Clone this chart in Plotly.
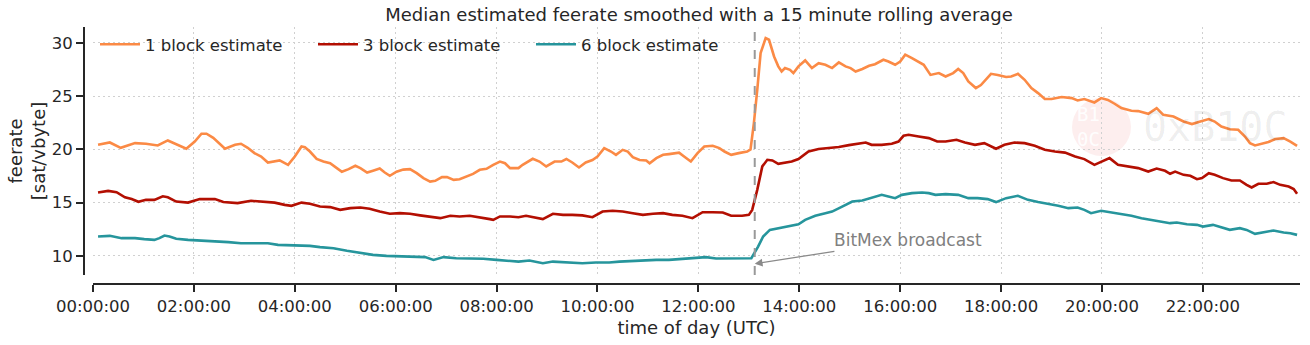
import pandas as pd
import plotly.graph_objects as go

DAY = "2020-01-01 "

# 1 block estimate (sat/vbyte), 15 minute rolling median
t_1block = ["00:06", "00:20", "00:33", "00:50", "01:03", "01:17", "01:29", "01:41", "01:51", "02:01",
            "02:09", "02:15", "02:23", "02:37", "02:49", "02:56", "03:04", "03:12", "03:20", "03:28",
            "03:36", "03:42", "03:52", "04:00", "04:08", "04:12", "04:18", "04:26", "04:34", "04:42",
            "04:50", "04:56", "05:04", "05:12", "05:18", "05:26", "05:33", "05:41", "05:47", "05:53",
            "06:01", "06:09", "06:17", "06:25", "06:33", "06:41", "06:47", "06:55", "07:01", "07:09",
            "07:16", "07:24", "07:32", "07:40", "07:48", "07:56", "08:04", "08:10", "08:16", "08:26",
            "08:31", "08:43", "08:51", "08:59", "09:09", "09:17", "09:23", "09:30", "09:38", "09:46",
            "09:54", "10:00", "10:08", "10:16", "10:22", "10:30", "10:36", "10:42", "10:50", "10:58",
            "11:02", "11:10", "11:18", "11:25", "11:37", "11:43", "11:51", "11:59", "12:07", "12:17",
            "12:25", "12:31", "12:39", "12:48", "12:58", "13:02", "13:06", "13:10", "13:14", "13:20",
            "13:24", "13:30", "13:35", "13:39", "13:43", "13:49", "13:53", "13:59", "14:07", "14:15",
            "14:23", "14:31", "14:39", "14:47", "14:55", "15:01", "15:07", "15:15", "15:23", "15:30",
            "15:40", "15:46", "15:54", "16:00", "16:06", "16:14", "16:22", "16:28", "16:36", "16:46",
            "16:54", "17:03", "17:09", "17:15", "17:21", "17:30", "17:36", "17:48", "17:56", "18:06",
            "18:12", "18:20", "18:28", "18:36", "18:44", "18:52", "19:00", "19:12", "19:24", "19:31",
            "19:39", "19:51", "19:59", "20:07", "20:15", "20:23", "20:35", "20:43", "20:55", "21:05",
            "21:13", "21:25", "21:37", "21:47", "21:57", "22:07", "22:14", "22:22", "22:32", "22:42",
            "22:50", "22:56", "23:02", "23:10", "23:18", "23:26", "23:36", "23:44", "23:52"]
v_1block = [20.43, 20.65, 20.15, 20.59, 20.53, 20.37, 20.84, 20.43, 20.06, 20.74,
            21.47, 21.47, 21.09, 20.06, 20.43, 20.53, 20.15, 19.65, 19.33, 18.77,
            18.86, 18.96, 18.55, 19.33, 20.27, 20.20, 19.80, 19.10, 18.86, 18.70,
            18.24, 17.90, 18.15, 18.46, 18.24, 17.83, 18.00, 18.20, 17.83, 17.52,
            17.90, 18.10, 18.15, 17.77, 17.30, 16.98, 17.05, 17.40, 17.40, 17.14,
            17.20, 17.45, 17.70, 18.08, 18.18, 18.55, 18.86, 18.70, 18.24, 18.24,
            18.55, 19.12, 18.86, 18.40, 18.86, 18.86, 19.10, 18.77, 18.30, 18.77,
            19.00, 19.33, 20.12, 19.80, 19.49, 19.96, 19.80, 19.28, 19.00, 18.96,
            18.70, 19.18, 19.49, 19.56, 19.70, 19.33, 18.86, 19.65, 20.27, 20.34,
            20.12, 19.80, 19.49, 19.65, 19.80, 20.00, 22.47, 25.60, 29.05, 30.46,
            30.30, 28.73, 27.80, 27.32, 27.64, 27.48, 27.17, 27.80, 28.36, 27.64,
            28.10, 27.95, 27.64, 28.17, 27.80, 27.64, 27.32, 27.55, 27.86, 28.00,
            28.42, 28.26, 27.95, 28.26, 28.90, 28.58, 28.26, 27.95, 27.00, 27.17,
            26.85, 27.17, 27.55, 27.17, 26.38, 25.76, 26.05, 27.10, 27.00, 26.80,
            26.85, 27.10, 26.54, 25.76, 25.29, 24.73, 24.73, 24.92, 24.82, 24.60,
            24.73, 24.41, 24.82, 24.65, 24.29, 23.88, 23.63, 23.60, 23.35, 23.88,
            23.25, 23.09, 22.62, 22.38, 22.62, 22.85, 22.62, 22.15, 21.90, 21.84,
            21.21, 20.59, 20.37, 20.53, 20.69, 20.97, 21.06, 20.74, 20.34]

# 3 block estimate (sat/vbyte)
t_3block = ["00:06", "00:18", "00:28", "00:38", "00:46", "00:54", "01:03", "01:13", "01:23", "01:29",
            "01:39", "01:53", "02:07", "02:17", "02:25", "02:35", "02:52", "03:08", "03:24", "03:36",
            "03:48", "03:56", "04:08", "04:18", "04:30", "04:42", "04:54", "05:06", "05:18", "05:29",
            "05:41", "05:53", "06:05", "06:17", "06:29", "06:41", "06:53", "07:05", "07:16", "07:28",
            "07:40", "07:52", "07:56", "08:04", "08:16", "08:26", "08:35", "08:45", "08:55", "09:07",
            "09:19", "09:30", "09:42", "09:54", "10:06", "10:18", "10:30", "10:42", "10:54", "11:06",
            "11:18", "11:29", "11:41", "11:53", "12:05", "12:17", "12:29", "12:39", "12:52", "13:00",
            "13:04", "13:10", "13:16", "13:22", "13:28", "13:35", "13:43", "13:51", "13:59", "14:05",
            "14:11", "14:23", "14:35", "14:47", "14:59", "15:11", "15:19", "15:26", "15:38", "15:50",
            "15:58", "16:04", "16:10", "16:22", "16:34", "16:44", "16:54", "17:07", "17:17", "17:29",
            "17:40", "17:54", "18:04", "18:16", "18:28", "18:40", "18:52", "19:04", "19:16", "19:28",
            "19:39", "19:51", "19:59", "20:09", "20:19", "20:33", "20:43", "20:55", "21:05", "21:15",
            "21:21", "21:27", "21:37", "21:45", "21:53", "21:59", "22:07", "22:14", "22:24", "22:34",
            "22:44", "22:52", "22:58", "23:06", "23:16", "23:24", "23:32", "23:42", "23:48", "23:52"]
v_3block = [15.95, 16.10, 15.98, 15.50, 15.33, 15.08, 15.26, 15.26, 15.60, 15.50,
            15.10, 15.00, 15.33, 15.33, 15.33, 15.05, 14.95, 15.17, 15.10, 15.00,
            14.79, 14.70, 15.00, 14.89, 14.63, 14.58, 14.32, 14.48, 14.54, 14.42,
            14.16, 13.95, 14.01, 13.95, 13.80, 13.70, 13.54, 13.76, 13.70, 13.76,
            13.63, 13.45, 13.38, 13.70, 13.70, 13.63, 13.76, 13.63, 13.45, 13.95,
            13.85, 13.85, 13.80, 13.63, 14.16, 14.23, 14.16, 14.01, 13.85, 13.95,
            14.01, 13.85, 13.76, 13.54, 14.10, 14.10, 14.07, 13.76, 13.76, 13.85,
            14.32, 16.20, 18.40, 19.02, 18.96, 18.65, 18.77, 18.86, 19.09, 19.49,
            19.80, 20.03, 20.12, 20.22, 20.40, 20.59, 20.65, 20.43, 20.43, 20.53,
            20.74, 21.28, 21.37, 21.21, 21.06, 20.74, 20.74, 20.90, 20.65, 20.43,
            20.59, 20.06, 20.43, 20.65, 20.59, 20.34, 19.96, 19.80, 19.70, 19.33,
            19.09, 18.55, 18.86, 19.18, 18.55, 18.40, 18.24, 17.92, 18.20, 17.99,
            17.71, 17.92, 17.61, 17.52, 17.20, 17.30, 17.77, 17.61, 17.30, 17.08,
            17.08, 16.67, 16.42, 16.77, 16.77, 16.93, 16.67, 16.51, 16.27, 15.83]

# 6 block estimate (sat/vbyte)
t_6block = ["00:06", "00:20", "00:34", "00:50", "01:01", "01:13", "01:19", "01:25", "01:31", "01:39",
            "01:53", "02:09", "02:25", "02:41", "02:56", "03:12", "03:28", "03:40", "03:52", "04:08",
            "04:18", "04:30", "04:46", "05:02", "05:18", "05:33", "05:49", "06:05", "06:21", "06:35",
            "06:45", "06:57", "07:12", "07:28", "07:44", "08:00", "08:12", "08:26", "08:39", "08:55",
            "09:07", "09:23", "09:42", "09:58", "10:14", "10:26", "10:42", "10:58", "11:10", "11:25",
            "11:41", "11:57", "12:09", "12:21", "12:33", "12:45", "12:59", "13:03", "13:11", "13:17",
            "13:25", "13:35", "13:47", "13:59", "14:07", "14:19", "14:31", "14:39", "14:51", "15:03",
            "15:15", "15:26", "15:38", "15:46", "15:54", "16:02", "16:14", "16:26", "16:34", "16:42",
            "16:54", "17:09", "17:21", "17:32", "17:44", "17:54", "18:06", "18:20", "18:32", "18:44",
            "18:56", "19:08", "19:20", "19:31", "19:39", "19:47", "19:59", "20:11", "20:23", "20:35",
            "20:47", "20:59", "21:10", "21:21", "21:29", "21:41", "21:53", "22:00", "22:12", "22:22",
            "22:32", "22:44", "22:52", "23:02", "23:12", "23:24", "23:36", "23:44", "23:52"]
v_6block = [11.82, 11.88, 11.66, 11.66, 11.57, 11.50, 11.66, 11.91, 11.82, 11.60,
            11.50, 11.44, 11.38, 11.29, 11.19, 11.19, 11.19, 11.03, 11.00, 10.97,
            10.94, 10.82, 10.72, 10.47, 10.25, 10.09, 10.00, 9.94, 9.94, 9.88,
            9.62, 9.88, 9.78, 9.78, 9.72, 9.62, 9.53, 9.46, 9.56, 9.31,
            9.46, 9.40, 9.31, 9.37, 9.37, 9.46, 9.53, 9.53, 9.62, 9.62,
            9.69, 9.78, 9.88, 9.75, 9.75, 9.78, 9.80, 9.78, 10.87, 11.82,
            12.44, 12.60, 12.75, 12.97, 13.38, 13.76, 14.01, 14.16, 14.63, 15.10,
            15.20, 15.48, 15.73, 15.57, 15.42, 15.73, 15.89, 15.95, 15.89, 15.73,
            15.80, 15.73, 15.42, 15.42, 15.33, 15.05, 15.42, 15.64, 15.26, 15.05,
            14.89, 14.70, 14.48, 14.54, 14.32, 14.01, 14.23, 14.07, 13.95, 13.76,
            13.54, 13.38, 13.22, 13.07, 13.13, 12.97, 12.91, 12.75, 12.91, 12.69,
            12.44, 12.60, 12.44, 12.07, 12.19, 12.38, 12.19, 12.13, 11.97]

series_names = ["1 block estimate", "3 block estimate", "6 block estimate"]
series_colors = ["#fb8a45", "#b30f02", "#26959c"]

BROADCAST_TIME = "13:07"
ARROW_TIP_VALUE = 9.25
X_START, X_END = "00:00:00", "23:55:30"
Y_RANGE = [8.2, 31.5]
Y_TICKS = [10, 15, 20, 25, 30]

TEXT = "#262626"
FONT = "DejaVu Sans"
GRID = dict(showgrid=True, gridcolor="#d0d0d0", gridwidth=1, griddash="2px,3px")


def stamp(times):
    return pd.to_datetime([DAY + t for t in times])


fig = go.Figure()
for name, color, t, v in zip(series_names, series_colors,
                             [t_1block, t_3block, t_6block],
                             [v_1block, v_3block, v_6block]):
    fig.add_trace(go.Scatter(x=stamp(t), y=v, mode="lines", name=name,
                             line=dict(color=color, width=2.6)))

# moment of the broadcast
fig.add_shape(type="line", xref="x", yref="y domain",
              x0=DAY + BROADCAST_TIME, x1=DAY + BROADCAST_TIME, y0=0, y1=1,
              line=dict(color="#999999", width=2, dash="dash"))
fig.add_annotation(x=DAY + BROADCAST_TIME, y=ARROW_TIP_VALUE, xref="x", yref="y",
                   text="BitMex broadcast", showarrow=True, ax=153, ay=-24,
                   arrowhead=2, arrowsize=1.2, arrowwidth=1.3, arrowcolor="#8a8a8a",
                   font=dict(family=FONT, size=17, color="#808080"))

# author mark
fig.add_shape(type="circle", xref="paper", yref="paper", layer="below",
              x0=(1072 - 84) / 1216, x1=(1131 - 84) / 1216,
              y0=(284 - 156) / 257, y1=(284 - 98) / 257,
              fillcolor="rgba(240,150,150,0.16)", line=dict(width=0))
fig.add_annotation(xref="paper", yref="paper", x=(1101.5 - 84) / 1216, y=(284 - 127) / 257,
                   text="B1<br>0C", showarrow=False,
                   font=dict(family="DejaVu Sans Mono", size=19, color="rgba(255,255,255,0.95)"))
fig.add_annotation(xref="paper", yref="paper", x=(1141 - 84) / 1216, xanchor="left",
                   y=(284 - 127) / 257, yanchor="middle",
                   text="0xB10C", showarrow=False,
                   font=dict(family="DejaVu Sans Mono", size=40, color="rgba(0,0,0,0.07)"))

fig.update_layout(
    width=1310, height=345,
    margin=dict(l=84, r=10, t=27, b=61),
    paper_bgcolor="white", plot_bgcolor="white",
    font=dict(family=FONT, size=16.5, color=TEXT),
    title=dict(text="Median estimated feerate smoothed with a 15 minute rolling average",
               x=699 / 1310, xref="container", xanchor="center",
               y=1 - 15 / 345, yref="container", yanchor="middle",
               font=dict(family=FONT, size=18, color=TEXT)),
    showlegend=True,
    legend=dict(orientation="h", x=11 / 1216, xanchor="left", y=1.0, yanchor="top",
                bgcolor="rgba(255,255,255,0)", font=dict(family=FONT, size=16.5, color=TEXT),
                itemwidth=40, entrywidth=163, entrywidthmode="pixels", tracegroupgap=0),
    xaxis=dict(domain=[9 / 1216, 1], anchor="free", position=0,
               type="date", range=[DAY + X_START, DAY + X_END],
               dtick=2 * 3600 * 1000, tick0=DAY + "00:00", tickformat="%H:%M:%S",
               showline=True, linecolor=TEXT, linewidth=1.8,
               ticks="outside", ticklen=7, tickwidth=1.8, tickcolor=TEXT,
               zeroline=False, **GRID,
               title=dict(text="time of day (UTC)", standoff=6,
                          font=dict(family=FONT, size=18, color=TEXT)),
               tickfont=dict(family=FONT, size=16.5, color=TEXT)),
    yaxis=dict(domain=[9 / 257, 1], anchor="free", position=0,
               range=Y_RANGE, tickvals=Y_TICKS,
               showline=True, linecolor=TEXT, linewidth=1.8,
               ticks="outside", ticklen=7, tickwidth=1.8, tickcolor=TEXT,
               zeroline=False, **GRID,
               title=dict(text="feerate<br>[sat/vbyte]", standoff=0,
                          font=dict(family=FONT, size=18, color=TEXT)),
               tickfont=dict(family=FONT, size=16.5, color=TEXT)),
)

fig.write_html("out.html")
